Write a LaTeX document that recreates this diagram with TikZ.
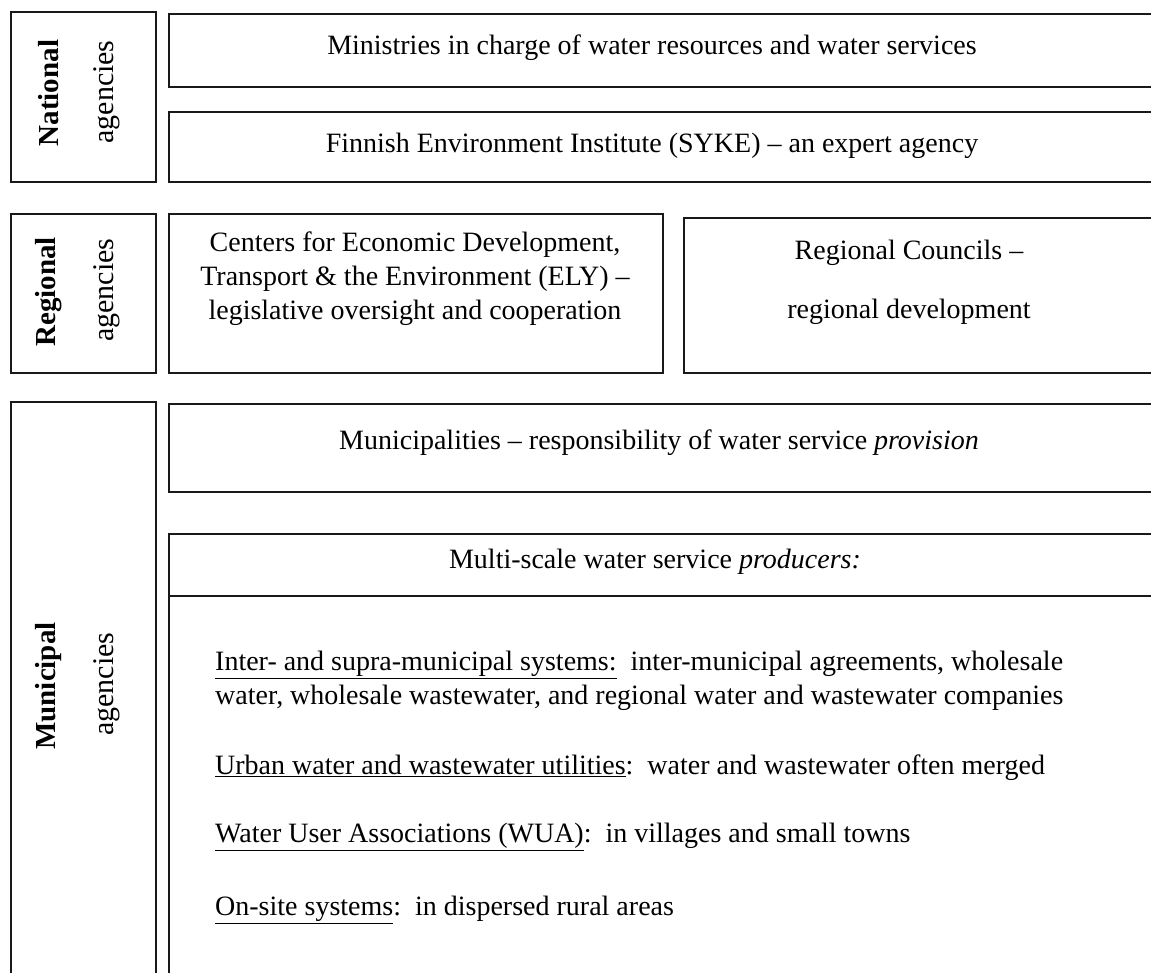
\documentclass[tikz,border=0pt]{standalone}
\usepackage{fontspec}
\setmainfont{Liberation Serif}
\newcommand{\mainsize}{\fontsize{28}{34}\selectfont}
\begin{document}
\begin{tikzpicture}[x=1pt,y=-1pt,
  box/.style={draw=black!90,line width=1.7pt,anchor=north west,inner sep=0pt},
  txt/.style={font=\mainsize,inner sep=0pt,align=center},
  ltxt/.style={font=\mainsize,inner sep=0pt,anchor=west},
  vlab/.style={font=\fontsize{30}{34}\selectfont,rotate=90,inner sep=0pt},
  vlabb/.style={font=\fontsize{29}{34}\selectfont\bfseries,rotate=90,inner sep=0pt}]
\useasboundingbox (0,0) rectangle (1151,972);
\clip (0,0) rectangle (1151,972);
% boxes
\node[box,minimum width=145pt,minimum height=170pt] (nat) at (10,11) {};
\node[box,minimum width=1010pt,minimum height=73pt] (min) at (168,13) {};
\node[box,minimum width=1010pt,minimum height=70pt] (syke) at (168,111) {};
\node[box,minimum width=145pt,minimum height=159pt] (reg) at (10,213) {};
\node[box,minimum width=494pt,minimum height=159pt] (ely) at (168,213) {};
\node[box,minimum width=500pt,minimum height=155pt] (rc) at (683,217) {};
\node[box,minimum width=145pt,minimum height=600pt] (mun) at (10,401) {};
\node[box,minimum width=1010pt,minimum height=88pt] (muni) at (168,403) {};
\node[box,minimum width=1010pt,minimum height=62pt] (prodh) at (168,533) {};
\node[box,minimum width=1010pt,minimum height=460pt] (prod) at (168,595) {};
% vertical labels
\node[vlabb] (natA) at (49,93) {National};
\node[vlab] (natB) at (107,92) {agencies};
\node[vlabb] (regA) at (49,292) {Regional};
\node[vlab] (regB) at (107,290) {agencies};
\node[vlabb] (munA) at (49,686) {Municipal};
\node[vlab] (munB) at (107,684) {agencies};
% texts
\node[txt] (tmin) at (652,48) {Ministries in charge of water resources and water services};
\node[txt] (tsyke) at (652,146) {Finnish Environment Institute (SYKE) -- an expert agency};
\node[txt] (tely) at (415,279) {Centers for Economic Development,\\Transport \& the Environment (ELY) --\\legislative oversight and cooperation};
\node[txt] (trc1) at (909,253) {Regional Councils --};
\node[txt] (trc2) at (909,312) {regional development};
\node[txt] (tmuni) at (659,443) {Municipalities -- responsibility of water service \textit{provision}};
\node[txt] (tprod) at (655,562) {Multi-scale water service \textit{producers:}};
\node[ltxt] (l1) at (215,665) {\underline{Inter- and supra-municipal systems:}\ \ inter-municipal agreements, wholesale};
\node[ltxt] (l2) at (215,698) {water, wholesale wastewater, and regional water and wastewater companies};
\node[ltxt] (l3) at (215,768) {\underline{Urban water and wastewater utilities}:\ \ water and wastewater often merged};
\node[ltxt] (l4) at (215,837) {\underline{Water User Associations (WUA)}:\ \ in villages and small towns};
\node[ltxt] (l5) at (215,910) {\underline{On-site systems}:\ \ in dispersed rural areas};
\end{tikzpicture}
\end{document}
